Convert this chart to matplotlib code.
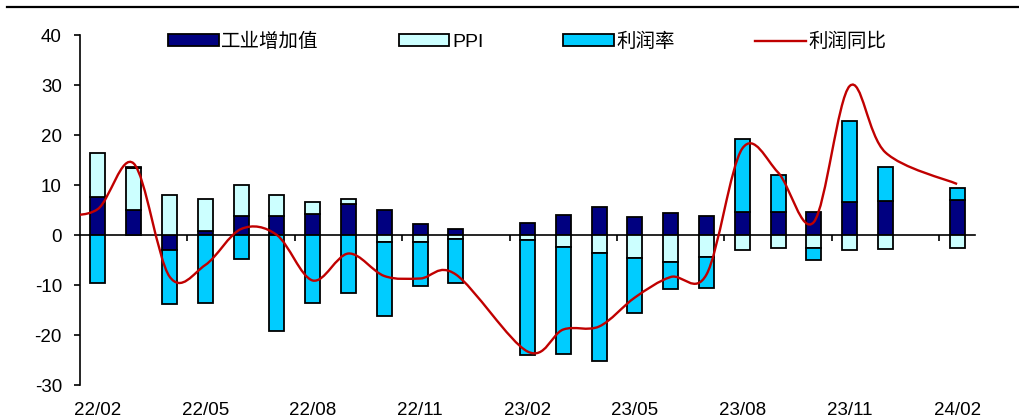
import matplotlib
matplotlib.use("Agg")
import matplotlib.pyplot as plt
from matplotlib.patches import Patch, PathPatch
from matplotlib.lines import Line2D
from matplotlib.path import Path
import numpy as np

plt.rcParams['font.family'] = ['Liberation Sans', 'Noto Sans CJK SC']
plt.rcParams['axes.unicode_minus'] = False

months = ["22/02", "22/03", "22/04", "22/05", "22/06", "22/07", "22/08", "22/09",
          "22/10", "22/11", "22/12", "23/01", "23/02", "23/03", "23/04", "23/05",
          "23/06", "23/07", "23/08", "23/09", "23/10", "23/11", "23/12", "24/01", "24/02"]
nan = np.nan
# 工业增加值 / PPI / 利润率 contributions (pct pts); Jan months are not reported
output_vals = [7.7, 5.1, -2.9, 0.8, 3.9, 3.8, 4.3, 6.3, 5.1, 2.3, 1.3, nan,
               2.5, 4.0, 5.7, 3.6, 4.5, 3.8, 4.6, 4.6, 4.7, 6.7, 6.8, nan, 7.1]
ppi_vals = [8.8, 8.3, 8.1, 6.4, 6.2, 4.3, 2.3, 1.0, -1.3, -1.3, -0.7, nan,
            -1.0, -2.4, -3.5, -4.6, -5.3, -4.3, -3.0, -2.5, -2.5, -3.0, -2.7, nan, -2.5]
margin_vals = [-9.6, 0.3, -10.9, -13.5, -4.8, -19.1, -13.6, -11.5, -14.8, -8.8, -8.8, nan,
               -23.0, -21.3, -21.6, -10.9, -5.4, -6.2, 14.7, 7.5, -2.5, 16.1, 6.9, nan, 2.3]
# 利润同比, series starts one month earlier (22/01)
profit_months = ["22/01"] + months
profit_yoy = [4.0, 5.2, 14.3, -8.3, -6.0, 1.2, 0.0, -9.1, -3.7, -8.2, -8.7, -7.9, nan,
              -23.3, -18.9, -18.3, -12.5, -8.4, -7.9, 17.3, 12.5, 2.6, 29.8, 16.5, nan, 10.2]

label_months = ["22/02", "22/05", "22/08", "22/11", "23/02", "23/05", "23/08", "23/11", "24/02"]

fig = plt.figure(figsize=(10.2, 4.17), dpi=100)
ax = fig.add_axes([80 / 1020, 32 / 417, 895 / 1020, 350 / 417])

x = np.arange(len(months))
series = [(output_vals, "#000080", "工业增加值"),
          (ppi_vals, "#CCFFFF", "PPI"),
          (margin_vals, "#00CCFF", "利润率")]
pos_base = np.zeros(len(months))
neg_base = np.zeros(len(months))
for vals, color, name in series:
    v = np.array(vals, dtype=float)
    has = ~np.isnan(v)
    v0 = np.nan_to_num(v)
    base = np.where(v0 >= 0, pos_base, neg_base)
    ax.bar(x[has], v0[has], width=0.42, bottom=base[has], color=color,
           edgecolor="black", linewidth=1.3, zorder=3)
    pos_base += np.where(v0 > 0, v0, 0)
    neg_base += np.where(v0 < 0, v0, 0)

# smoothed profit line (cubic Bezier through points, gaps are bridged)
px = np.array([months.index(m) if m in months else -1 for m in profit_months], dtype=float)
py = np.array(profit_yoy, dtype=float)
ok = ~np.isnan(py)
pts = np.column_stack([px[ok], py[ok]])
verts = [tuple(pts[0])]
codes = [Path.MOVETO]
n = len(pts)
for i in range(n - 1):
    p0 = pts[max(i - 1, 0)]
    p1 = pts[i]
    p2 = pts[i + 1]
    p3 = pts[min(i + 2, n - 1)]
    c1 = p1 + (p2 - p0) / 6
    c2 = p2 - (p3 - p1) / 6
    verts += [tuple(c1), tuple(c2), tuple(p2)]
    codes += [Path.CURVE4] * 3
ax.add_patch(PathPatch(Path(verts, codes), facecolor="none", edgecolor="#C00000",
                       linewidth=1.7, zorder=4))

ax.set_xlim(-0.5, len(months) - 0.5)
ax.set_ylim(-30, 40)
ax.set_yticks(np.arange(-30, 41, 10))
ax.tick_params(axis="y", direction="out", length=4.5, width=1.2, pad=8.5, labelsize=13.5)

ax.spines["top"].set_visible(False)
ax.spines["right"].set_visible(False)
ax.spines["left"].set_linewidth(1.2)
ax.spines["bottom"].set_position(("data", 0))
ax.spines["bottom"].set_linewidth(1.2)
ax.spines["bottom"].set_zorder(2)
ax.set_xticks(np.arange(2.5, len(months), 3))
ax.tick_params(axis="x", direction="out", length=4.5, width=1.2, labelbottom=False)

# category labels at the bottom of the plot
sec = ax.secondary_xaxis("bottom")
sec.spines["bottom"].set_visible(False)
sec.set_xticks([months.index(m) for m in label_months])
sec.set_xticklabels(label_months)
sec.tick_params(length=0, pad=12, labelsize=13.5)

# top rule
fig.add_artist(Line2D([7 / 1020, 1], [1 - 7 / 417, 1 - 7 / 417], color="black", linewidth=1.6))

handles = [Patch(facecolor=c, edgecolor="black", linewidth=1.3) for _, c, _ in series]
handles.append(Line2D([], [], color="#C00000", linewidth=1.7))
labels = [s[2] for s in series] + ["利润同比"]
fig.legend(handles, labels, loc="center left", bbox_to_anchor=(168 / 1020, 1 - 42 / 417),
           ncol=4, frameon=False, fontsize=14, handlelength=2.6, handleheight=0.6,
           handletextpad=0.15, columnspacing=4.1, borderpad=0, borderaxespad=0)

fig.savefig("out.png", dpi=100)
